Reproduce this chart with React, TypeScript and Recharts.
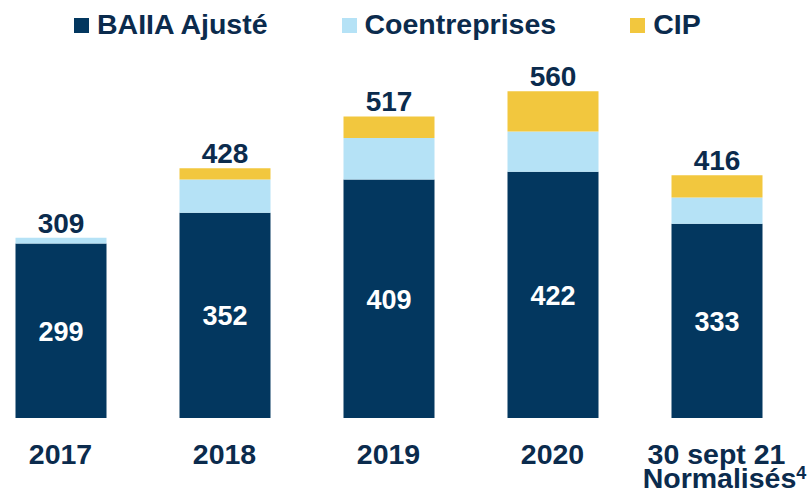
import { BarChart, Bar, XAxis, YAxis, LabelList } from "recharts";

const categories = ["2017", "2018", "2019", "2020", "30 sept 21"];
const baiiaAjuste = [299, 352, 409, 422, 333];
const coentreprises = [10, 57, 71, 69, 45];
const cip = [0, 19, 37, 69, 38];
const totals = [309, 428, 517, 560, 416];
const tickNotes: Record<string, string> = { "30 sept 21": "Normalisés" };
const noteMark = "4";

const NAVY = "#03375F";
const SKY = "#B5E2F6";
const GOLD = "#F2C73E";
const INK = "#0B2B4D";
const FONT = '"Liberation Sans", Arial, sans-serif';

const series = [
  { key: "baiia", name: "BAIIA Ajusté", color: NAVY },
  { key: "coent", name: "Coentreprises", color: SKY },
  { key: "cip", name: "CIP", color: GOLD },
];

const data = categories.map((name, i) => ({
  name,
  baiia: baiiaAjuste[i],
  coent: coentreprises[i],
  cip: cip[i],
  total: totals[i],
}));

function XTick(props: any) {
  const { x, y, payload } = props;
  const note = tickNotes[payload.value];
  return (
    <text x={x} y={y} textAnchor="middle" fontFamily={FONT} fontWeight={700} fontSize={28.5} fill={INK}>
      <tspan x={x} dy={46}>{payload.value}</tspan>
      {note && (
        <tspan x={x + 8} dy={24}>
          {note}
        </tspan>
      )}
      {note && (
        <tspan fontSize={18} dy={-9}>
          {noteMark}
        </tspan>
      )}
    </text>
  );
}

function InnerValue(props: any) {
  const { x, y, width, height, value } = props;
  return (
    <text x={x + width / 2} y={y + height / 2 + 10} textAnchor="middle" fontFamily={FONT} fontWeight={700} fontSize={27} fill="#ffffff">
      {value}
    </text>
  );
}

// placed on the Coentreprises segment, lifted by the CIP segment height (which may be zero)
function TotalValue(props: any) {
  const { x, y, width, height, index } = props;
  const row = data[index];
  const perUnit = height / row.coent;
  const top = y - row.cip * perUnit;
  return (
    <text x={x + width / 2} y={top - 5} textAnchor="middle" fontFamily={FONT} fontWeight={700} fontSize={28} fill={INK}>
      {row.total}
    </text>
  );
}

export default function App() {
  return (
    <div style={{ position: "absolute", left: 0, top: 0, width: 811, height: 496, overflow: "hidden", background: "#fff" }}>
      <div style={{ position: "absolute", left: -30, top: 0 }}>
        <BarChart width={840} height={496} data={data} margin={{ top: 68, right: 11.5, bottom: 0, left: 8.5 }} barSize={91}>
          <XAxis dataKey="name" axisLine={false} tickLine={false} tickSize={0} tickMargin={0} height={78} interval={0} tick={<XTick />} />
          <YAxis hide domain={[0, 600]} />
          <Bar dataKey="baiia" stackId="a" fill={NAVY} isAnimationActive={false}>
            <LabelList dataKey="baiia" content={<InnerValue />} />
          </Bar>
          <Bar dataKey="coent" stackId="a" fill={SKY} isAnimationActive={false}>
            <LabelList dataKey="total" content={<TotalValue />} />
          </Bar>
          <Bar dataKey="cip" stackId="a" fill={GOLD} isAnimationActive={false} />
        </BarChart>
      </div>
      <div style={{ position: "absolute", left: 74, top: 10, display: "flex", fontFamily: FONT, fontWeight: 700, fontSize: 28.5, lineHeight: 1, color: INK }}>
        {series.map((s) => (
          <div key={s.key} style={{ display: "flex", marginRight: 74 }}>
            <div style={{ width: 15, height: 15, marginTop: 8, marginRight: 8, background: s.color }} />
            <span>{s.name}</span>
          </div>
        ))}
      </div>
    </div>
  );
}
